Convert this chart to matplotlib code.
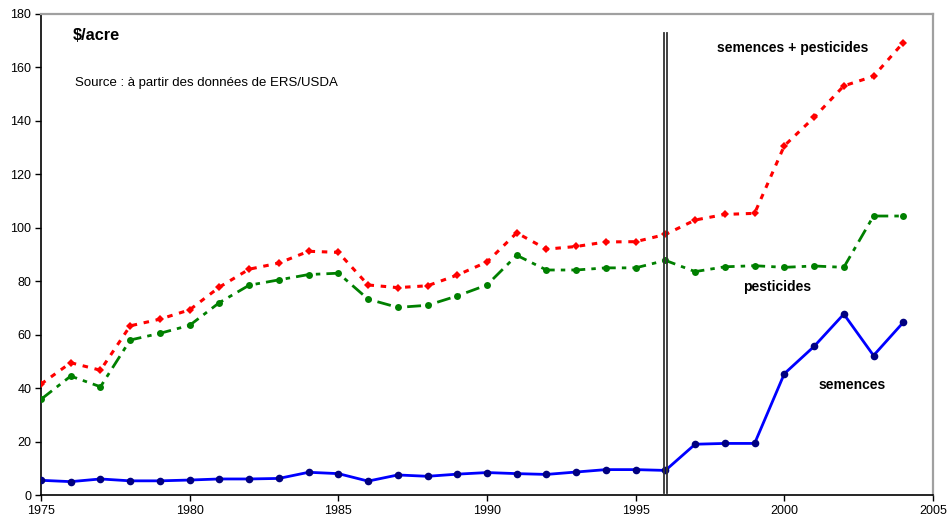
import matplotlib
matplotlib.use("Agg")
import matplotlib.pyplot as plt
import numpy as np

plt.rcParams['font.family'] = ['Liberation Sans', 'DejaVu Sans']

years = list(range(1975, 2005))
semences = [5.5, 5.0, 6.0, 5.3, 5.3, 5.6, 6.0, 6.0, 6.2, 8.5,
            8.0, 5.2, 7.5, 7.0, 7.8, 8.4, 8.0, 7.7, 8.6, 9.5,
            9.5, 9.2, 19.0, 19.3, 19.3, 45.4, 55.6, 67.7, 52.2, 64.6]
pesticides = [35.8, 44.5, 40.5, 58.0, 60.5, 63.5, 72.0, 78.5, 80.5, 82.5,
              83.0, 73.3, 70.2, 71.0, 74.5, 78.6, 89.7, 84.2, 84.2, 85.0,
              85.0, 87.8, 83.6, 85.4, 85.8, 85.2, 85.7, 85.2, 104.4, 104.4]
total = [41.5, 49.5, 46.7, 63.3, 65.8, 69.3, 77.8, 84.5, 86.8, 91.2,
         90.8, 78.6, 77.6, 78.3, 82.3, 87.2, 98.1, 92.0, 93.0, 94.7,
         94.8, 97.5, 102.9, 105.0, 105.4, 130.7, 141.3, 153.1, 156.7, 169.3]

fig = plt.figure(figsize=(9.47, 5.21), dpi=100)
ax = fig.add_axes([41/947, 1-495/521, 892/947, 481/521])

ax.plot(years, total, color='#FF0000', lw=2.2, linestyle=(0, (1.8, 2.2)),
        marker='D', markersize=4, markeredgewidth=0, zorder=3)
ax.plot(years, pesticides, color='#008000', lw=2.0, linestyle=(0, (5, 2.2, 1.6, 2.2)),
        marker='o', markersize=5, markeredgewidth=0, zorder=3)
ax.plot(years, semences, color='#0000FF', lw=2.0, linestyle='-',
        marker='o', markersize=5.5, markerfacecolor='#000080', markeredgecolor='#000080',
        markeredgewidth=0, zorder=4)

# double vertical separator at 1996
for xv in (1995.94, 1996.05):
    ax.plot([xv, xv], [0.6, 173], color='#333333', lw=1.3, zorder=5)

ax.set_xlim(1975, 2005)
ax.set_ylim(0, 180)
ax.set_xticks([1975, 1980, 1985, 1990, 1995, 2000, 2005])
ax.set_yticks(range(0, 181, 20))
ax.tick_params(axis='both', direction='out', length=4, width=1, labelsize=9,
               colors='black', pad=3)
for s in ('left', 'bottom'):
    ax.spines[s].set_color('black')
    ax.spines[s].set_linewidth(1.2)
for s in ('top', 'right'):
    ax.spines[s].set_color('#A0A0A0')
    ax.spines[s].set_linewidth(1.6)

ax.text(0.036, 0.956, '$/acre', transform=ax.transAxes, fontsize=11.7,
        fontweight='bold', ha='left', va='center')
ax.text(0.038, 0.8565, 'Source : à partir des données de ERS/USDA', transform=ax.transAxes,
        fontsize=9.5, ha='left', va='center')
ax.text(0.843, 0.9286, 'semences + pesticides', transform=ax.transAxes, fontsize=10,
        fontweight='bold', ha='center', va='center')
ax.text(0.8257, 0.433, 'pesticides', transform=ax.transAxes, fontsize=10,
        fontweight='bold', ha='center', va='center')
ax.text(0.909, 0.2287, 'semences', transform=ax.transAxes, fontsize=10,
        fontweight='bold', ha='center', va='center')

fig.savefig('out.png', dpi=100)
